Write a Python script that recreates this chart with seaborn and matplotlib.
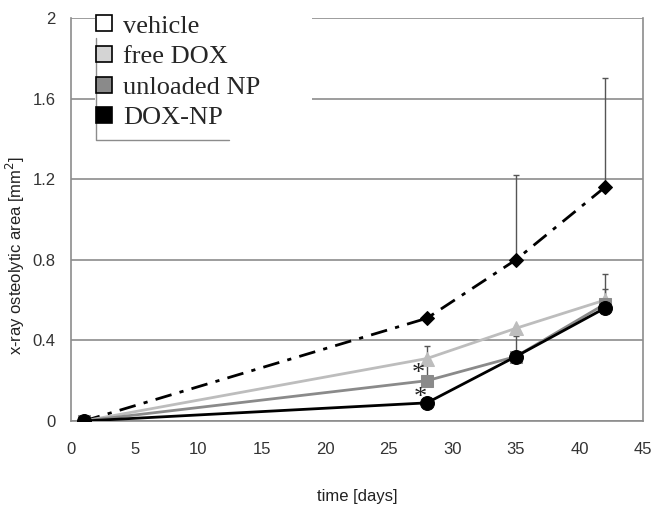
import matplotlib
matplotlib.use("Agg")
import matplotlib.pyplot as plt
import seaborn as sns
import numpy as np
import pandas as pd
from matplotlib.lines import Line2D
from matplotlib.patches import Rectangle

days = [1, 28, 35, 42]
vehicle = [0.0, 0.51, 0.80, 1.16]
free_dox = [0.0, 0.31, 0.46, 0.60]
unloaded_np = [0.0, 0.20, 0.32, 0.58]
dox_np = [0.0, 0.09, 0.32, 0.56]

vehicle_err = [0.0, 0.0, 0.42, 0.54]
free_dox_err = [0.0, 0.06, 0.0, 0.13]
unloaded_np_err = [0.0, 0.10, 0.10, 0.075]
dox_np_err = [0.0, 0.0, 0.0, 0.0]

labels = ["vehicle", "free DOX", "unloaded NP", "DOX-NP"]
xticks = [0, 5, 10, 15, 20, 25, 30, 35, 40, 45]
yticks = [0, 0.4, 0.8, 1.2, 1.6, 2.0]
yticklabels = ["0", "0.4", "0.8", "1.2", "1.6", "2"]

sns.set_theme(style="white")
plt.rcParams["font.family"] = ["Liberation Sans", "DejaVu Sans"]

fig = plt.figure(figsize=(6.51, 5.11), dpi=100)
ax = fig.add_axes([71 / 651, 90 / 511, 572 / 651, 403 / 511])

series = [
    (vehicle, vehicle_err, "black", "D", (0, (6, 3, 1.5, 3)), 7, 2.0, "black"),
    (free_dox, free_dox_err, "#bdbdbd", "^", "-", 10, 2.0, "#bdbdbd"),
    (unloaded_np, unloaded_np_err, "#8a8a8a", "s", "-", 9, 2.0, "#8a8a8a"),
    (dox_np, dox_np_err, "black", "o", "-", 10, 2.0, "black"),
]

for (vals, errs, col, mk, ls, ms, lw, ec), lab in zip(series, labels):
    ax.errorbar(days, vals, yerr=[np.zeros(len(errs)), errs], fmt="none",
                ecolor="#555555", elinewidth=1.0, capsize=2.5, capthick=1.0, zorder=2)
    sns.lineplot(x=days, y=vals, ax=ax, color=col, marker=mk, markersize=ms,
                 linewidth=lw, linestyle=ls, markeredgecolor=ec, zorder=3,
                 label=None, legend=False)

ax.set_xlim(0, 45)
ax.set_ylim(0, 2)
ax.set_xticks(xticks)
ax.set_yticks(yticks)
ax.set_yticklabels(yticklabels)
ax.yaxis.grid(True, color="#8c8c8c", linewidth=1.2)
ax.xaxis.grid(False)
for s in ["left", "bottom", "right"]:
    ax.spines[s].set_visible(True)
    ax.spines[s].set_color("#8c8c8c")
    ax.spines[s].set_linewidth(1.2)
ax.spines["top"].set_visible(False)
ax.tick_params(axis="both", which="both", direction="out", length=5, width=1.0,
               color="#8c8c8c", labelsize=12, labelcolor="#333333", pad=6)
ax.tick_params(axis="x", pad=10)
ax.set_xlabel("time [days]", fontsize=12, color="#222222", labelpad=23)
ax.set_ylabel("x-ray osteolytic area [mm$^2$]", fontsize=12, color="#222222")
ax.yaxis.set_label_coords(-0.077, 0.41)

# asterisks
ax.text(27.3, 0.235, "*", fontsize=19, ha="center", va="center", color="#222222",
        family="Liberation Serif", zorder=5)
ax.text(27.45, 0.115, "*", fontsize=19, ha="center", va="center", color="#222222",
        family="Liberation Serif", zorder=5)

# white area behind the legend
ax.add_patch(Rectangle((95 / 651, 1 - 135 / 511), 217 / 651, 135 / 511,
                       transform=fig.transFigure, facecolor="white", edgecolor="none",
                       clip_on=False, zorder=8))

handles = [
    Line2D([], [], linestyle="none", marker="s", markersize=11.5, markerfacecolor=fc,
           markeredgecolor="black", markeredgewidth=1.2)
    for fc in ["white", "#d4d4d4", "#8a8a8a", "black"]
]
leg = ax.legend(handles, labels, loc="upper left", bbox_to_anchor=(0.003, 1.062),
                frameon=False, handlelength=0.75, handletextpad=0.35, labelspacing=0.27,
                borderpad=0.3, prop={"family": "Liberation Serif", "size": 19})
leg.set_zorder(10)

# bracket-like frame around legend
ax.add_line(Line2D([96 / 651, 96 / 651, 229 / 651], [1 - 38 / 511, 1 - 140 / 511, 1 - 140 / 511],
                   transform=fig.transFigure, color="#8c8c8c", linewidth=1.0,
                   clip_on=False, zorder=9))

fig.savefig("out.png", dpi=100, facecolor="white")
